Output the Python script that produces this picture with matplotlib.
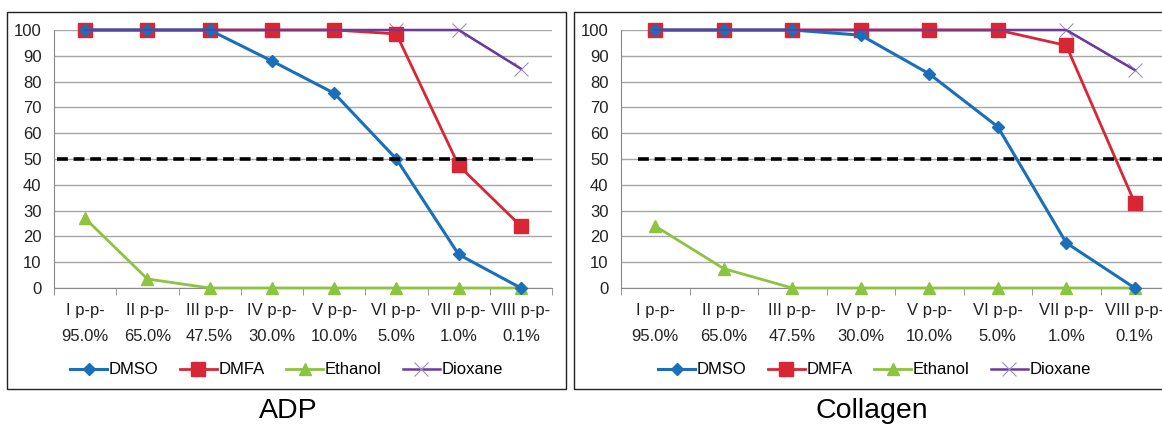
import matplotlib.pyplot as plt
from matplotlib.patches import Rectangle
from matplotlib.ticker import FixedLocator

plt.rcParams['font.family'] = ['Liberation Sans', 'DejaVu Sans']

categorias = ["I p-p-\n95.0%", "II p-p-\n65.0%", "III p-p-\n47.5%", "IV p-p-\n30.0%",
              "V p-p-\n10.0%", "VI p-p-\n5.0%", "VII p-p-\n1.0%", "VIII p-p-\n0.1%"]

# ADP
adp_dmso = [100, 100, 100, 88, 75.5, 50, 13, 0]
adp_dmfa = [100, 100, 100, 100, 100, 98.5, 47.5, 24]
adp_etanol = [27, 3.5, 0, 0, 0, 0, 0, 0]
adp_dioxano = [100, 100, 100, 100, 100, 100, 100, 85]

# Collagen
col_dmso = [100, 100, 100, 98, 83, 62.5, 17.5, 0]
col_dmfa = [100, 100, 100, 100, 100, 100, 94, 33]
col_etanol = [24, 7.5, 0, 0, 0, 0, 0, 0]
col_dioxano = [100, 100, 100, 100, 100, 100, 100, 84.5]

umbral = 50

W, H = 1162, 425
fig = plt.figure(figsize=(W / 100, H / 100), dpi=100)


def px(x0, y0, x1, y1):
    """Convierte caja en pixeles (arriba-izquierda) a fracciones de figura."""
    return [x0 / W, 1 - y1 / H, (x1 - x0) / W, (y1 - y0) / H]


def dibujar_panel(caja, pos_ax, titulo, tit_x, dmso, dmfa, etanol, dioxano, x_umbral):
    x0, y0, x1, y1 = caja
    fig.patches.append(Rectangle((x0 / W, 1 - y1 / H), (x1 - x0) / W, (y1 - y0) / H,
                                 transform=fig.transFigure, fill=False,
                                 edgecolor='#222222', linewidth=1.0, clip_on=False))
    ax = fig.add_axes(px(*pos_ax))
    x = list(range(len(categorias)))

    ax.plot(x, dioxano, color='#6a3a9c', lw=1.8, marker='x', ms=10, mew=0.8,
            mec='#a08cc8', label='Dioxane', clip_on=False, zorder=3)
    ax.plot(x, etanol, color='#8cc43f', lw=2.0, marker='^', ms=9,
            label='Ethanol', clip_on=False, zorder=4)
    ax.plot(x, dmso, color='#1a6fba', lw=2.2, marker='D', ms=6,
            label='DMSO', clip_on=False, zorder=5)
    ax.plot(x, dmfa, color='#d92634', lw=2.0, marker='s', ms=10,
            label='DMFA', clip_on=False, zorder=4)
    # linea de dioxano encima en la parte plana
    ax.plot(x, dioxano, color='#6a3a9c', lw=1.2, clip_on=False, zorder=6)

    ax.plot([x_umbral[0], x_umbral[1]], [umbral, umbral], color='black', lw=2.6,
            ls=(0, (3, 1.6)), clip_on=False, zorder=7)

    ax.set_xlim(-0.5, len(categorias) - 0.5)
    ax.set_ylim(0, 100)
    ax.set_yticks(range(0, 101, 10))
    ax.yaxis.grid(True, color='#a6a6a6', lw=1.0)
    ax.set_axisbelow(True)
    ax.set_xticks(x)
    ax.set_xticklabels(categorias, fontsize=12, linespacing=1.9, color='#222222')
    ax.xaxis.set_minor_locator(FixedLocator([i - 0.5 for i in range(len(categorias) + 1)]))
    ax.tick_params(axis='x', which='major', length=0, pad=11)
    ax.tick_params(axis='x', which='minor', length=5, color='#888888')
    ax.tick_params(axis='y', length=0, labelsize=12, pad=9, labelcolor='#222222')
    for s in ['top', 'right']:
        ax.spines[s].set_visible(False)
    ax.spines['left'].set_color('#888888')
    ax.spines['bottom'].set_color('#888888')

    h, l = ax.get_legend_handles_labels()
    orden = [2, 3, 1, 0]
    fig.legend([h[i] for i in orden], [l[i] for i in orden], ncol=4, frameon=False,
               loc='center', bbox_to_anchor=((x0 + x1) / 2 / W, 1 - 370 / H),
               fontsize=12, handlelength=2.2, handletextpad=0.1, columnspacing=1.3)
    fig.text(tit_x / W, 1 - 411 / H, titulo, ha='center', va='center', fontsize=20.5)
    return ax


dibujar_panel((7, 12, 566, 389), (54, 30, 552, 288), "ADP", 288,
              adp_dmso, adp_dmfa, adp_etanol, adp_dioxano, (-0.45, 7.2))
dibujar_panel((574, 12, 1175, 389), (621, 30, 1169, 288), "Collagen", 872,
              col_dmso, col_dmfa, col_etanol, col_dioxano, (-0.25, 7.6))

fig.savefig("out.png", dpi=100, facecolor='white')
